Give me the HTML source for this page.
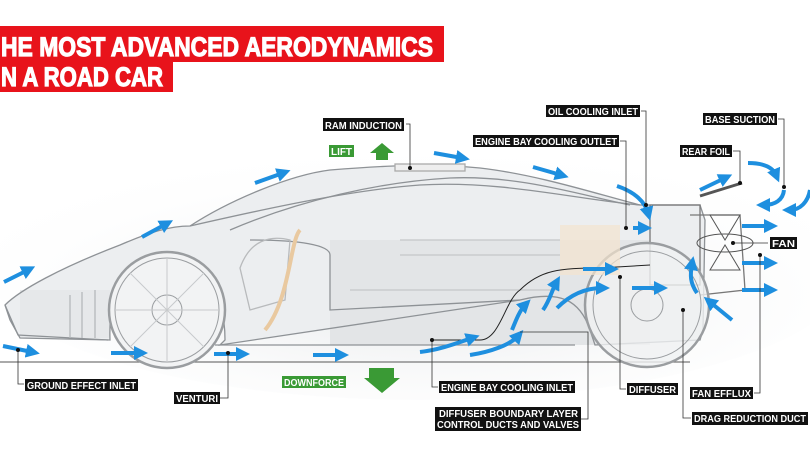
<!DOCTYPE html>
<html><head><meta charset="utf-8"><style>
html,body{margin:0;padding:0;background:#fff;width:810px;height:456px;overflow:hidden}
svg{display:block}
.l{font-family:"Liberation Sans",sans-serif;font-weight:bold;fill:#fff}
</style></head><body>
<svg width="810" height="456" viewBox="0 0 810 456" xmlns="http://www.w3.org/2000/svg">
<defs>
<marker id="ah" markerWidth="3.5" markerHeight="3.5" refX="1.5" refY="1.75" orient="auto" markerUnits="strokeWidth">
<path d="M0,0 L3.5,1.75 L0,3.5 z" fill="#1e8fdf"/></marker>
<radialGradient id="sh" cx="50%" cy="60%" r="60%"><stop offset="0" stop-color="#e6e8ea"/><stop offset="1" stop-color="#fff" stop-opacity="0"/></radialGradient>
</defs>
<rect width="810" height="456" fill="#fff"/>
<ellipse cx="420" cy="270" rx="430" ry="130" fill="url(#sh)"/>
<!-- title -->
<rect x="0" y="26" width="444" height="36" fill="#e8131b"/>
<rect x="0" y="62" width="173" height="30" fill="#e8131b"/>
<text x="1" y="56" class="l" font-size="27" stroke="#fff" stroke-width="1.2" textLength="432" lengthAdjust="spacingAndGlyphs">HE MOST ADVANCED AERODYNAMICS</text>
<text x="1" y="86" class="l" font-size="27" stroke="#fff" stroke-width="1.2" textLength="162" lengthAdjust="spacingAndGlyphs">N A ROAD CAR</text>
<!-- car body -->
<path d="M5,305 C20,290 60,268 120,245 C150,232 170,226 190,226 C230,200 290,175 330,170 C380,166 430,163 480,168 C540,175 600,195 640,205 L700,205 L705,220 L703,330 L700,340 L595,345 L590,330 C580,300 560,290 520,300 L220,345 L225,340 C225,290 200,255 165,252 C130,252 108,285 110,340 L20,338 L10,320 Z" fill="#eceef0"/>
<rect x="330" y="240" width="320" height="105" fill="#e3e5e7"/>
<rect x="20" y="290" width="90" height="48" fill="#e6e8ea"/>
<g fill="none" stroke="#8e9296" stroke-width="1.3">
<path d="M5,305 C20,290 60,268 120,245 C150,232 170,226 190,226 C230,200 290,175 330,170 C380,166 430,163 480,168 C540,175 600,195 640,205 L700,205 L705,220 L703,330 L700,340 L595,345 L590,330 C580,300 560,290 520,300 L220,345 L225,340 C225,290 200,255 165,252 C130,252 108,285 110,340 L20,338 L10,320 Z"/>
<path d="M5,305 L18,335 L108,340" />
<path d="M190,226 C260,210 350,190 420,185 C500,180 580,200 640,205"/>
<path d="M230,230 C300,200 380,182 450,178 C520,175 580,195 630,205"/>
<path d="M250,240 C300,240 330,245 330,255 L330,310 L520,300"/>
<path d="M215,345 L575,345"/>
<path d="M0,362 L690,362" stroke="#777"/>
<path d="M240,268 C250,240 270,235 290,240 L285,300 L250,310 Z" stroke="#b8babc"/>
<path d="M70,295 L70,338 M82,292 L82,338 M95,290 L95,338" stroke="#b5b8bb"/>
<path d="M400,240 L560,240 M400,255 L560,255 M350,290 L560,290" stroke="#c4c6c8"/>
<rect x="395" y="164" width="70" height="7" stroke="#aaa" fill="#eee"/>
<rect x="650" y="205" width="50" height="80" stroke="#777"/>
<path d="M690,215 L740,215 L745,290 L700,295" stroke="#777"/>
<path d="M700,196 L742,183" stroke="#555" stroke-width="3"/>
</g>
<!-- wheels -->
<g fill="none" stroke="#9a9da0">
<circle cx="167" cy="310" r="58" stroke-width="2.5" fill="#f2f3f4"/><circle cx="167" cy="310" r="52"/><circle cx="167" cy="310" r="15"/>
<circle cx="647" cy="305" r="62" stroke-width="2.5" fill="#f0f1f2" fill-opacity=".8"/><circle cx="647" cy="305" r="54"/><circle cx="647" cy="305" r="16"/>
<path d="M167,258 L167,362 M115,310 L219,310 M130,273 L204,347 M204,273 L130,347" stroke="#c8cacc"/>
</g>
<!-- engine -->
<rect x="560" y="225" width="60" height="50" fill="#f3e4cf" opacity=".7"/>
<path d="M265,330 C290,300 290,240 300,230" stroke="#e9c9a0" stroke-width="4" fill="none"/>
<path d="M430,340 L480,340 C500,340 505,300 520,290 C540,270 560,268 600,268 L650,265" stroke="#222" stroke-width="1" fill="none"/>
<!-- fan -->
<g stroke="#555" fill="none"><path d="M710,215 L740,215 L725,240 Z M710,270 L740,270 L725,245 Z"/><ellipse cx="725" cy="243" rx="28" ry="9"/></g>
<!-- blue arrows -->
<g stroke="#1e8fdf" stroke-width="4" fill="none" marker-end="url(#ah)">
<path d="M4,282 L28,270"/><path d="M3,346 L32,352"/><path d="M142,237 L166,224"/><path d="M255,183 L283,173"/>
<path d="M111,353 L140,353"/><path d="M214,354 L242,354"/><path d="M313,355 L341,355"/>
<path d="M434,153 L462,158"/><path d="M533,167 L561,175"/><path d="M617,186 C635,192 645,202 648,213"/><path d="M633,228 L644,228"/>
<path d="M700,190 L725,178"/><path d="M748,163 C765,163 773,168 776,175"/><path d="M784,190 C783,200 775,205 764,205"/><path d="M810,190 C808,202 800,210 790,210"/>
<path d="M742,226 L770,226"/><path d="M742,263 L770,263"/><path d="M742,290 L770,290"/>
<path d="M583,269 L611,269"/><path d="M632,288 L660,288"/><path d="M557,308 C570,295 585,288 602,288"/>
<path d="M470,355 C490,352 510,345 518,336"/><path d="M420,352 C440,350 460,342 472,338"/><path d="M697,293 C690,283 690,275 692,264"/><path d="M732,320 L710,302"/>
<path d="M512,330 C516,320 520,310 525,305"/><path d="M543,310 C550,300 552,290 556,283"/>
</g>
<!-- leaders -->
<g stroke="#333" stroke-width="0.8" fill="none">
<path d="M406,124 L410,124 L410,168"/><path d="M641,111 L646,111 L646,205"/><path d="M620,141 L626,141 L626,228"/>
<path d="M778,119 L784,119 L784,187"/><path d="M733,151 L740,151 L740,183"/><path d="M733,243 L768,243"/>
<path d="M18,350 L18,384 L24,384"/><path d="M220,398 L228,398 L228,353"/><path d="M432,340 L432,387 L438,387"/>
<path d="M580,419 L588,419 L588,332 L520,332"/><path d="M620,277 L620,389 L626,389"/><path d="M754,393 L760,393 L760,255"/>
<path d="M683,310 L683,418 L691,418"/>
</g>
<g fill="#111"><circle cx="410" cy="168" r="2"/><circle cx="646" cy="205" r="2"/><circle cx="626" cy="228" r="2"/><circle cx="784" cy="187" r="2"/><circle cx="740" cy="183" r="2"/><circle cx="733" cy="243" r="2"/><circle cx="18" cy="350" r="2"/><circle cx="228" cy="353" r="2"/><circle cx="432" cy="340" r="2"/><circle cx="620" cy="277" r="2"/><circle cx="760" cy="255" r="2"/><circle cx="683" cy="310" r="2"/></g>
<!-- labels -->
<g>
<rect x="323" y="118" width="81" height="13" fill="#111"/><text x="325" y="129" class="l" font-size="10" textLength="77" lengthAdjust="spacingAndGlyphs">RAM INDUCTION</text>
<rect x="546" y="105" width="94" height="12" fill="#111"/><text x="548" y="115" class="l" font-size="10" textLength="90" lengthAdjust="spacingAndGlyphs">OIL COOLING INLET</text>
<rect x="473" y="135" width="146" height="12" fill="#111"/><text x="475" y="145" class="l" font-size="10" textLength="142" lengthAdjust="spacingAndGlyphs">ENGINE BAY COOLING OUTLET</text>
<rect x="703" y="113" width="74" height="12" fill="#111"/><text x="705" y="123" class="l" font-size="10" textLength="70" lengthAdjust="spacingAndGlyphs">BASE SUCTION</text>
<rect x="680" y="145" width="52" height="12" fill="#111"/><text x="682" y="155" class="l" font-size="10" textLength="48" lengthAdjust="spacingAndGlyphs">REAR FOIL</text>
<rect x="770" y="237" width="27" height="12" fill="#111"/><text x="772" y="247" class="l" font-size="10" textLength="23" lengthAdjust="spacingAndGlyphs">FAN</text>
<rect x="25" y="379" width="113" height="12" fill="#111"/><text x="27" y="389" class="l" font-size="10" textLength="109" lengthAdjust="spacingAndGlyphs">GROUND EFFECT INLET</text>
<rect x="174" y="392" width="46" height="12" fill="#111"/><text x="176" y="402" class="l" font-size="10" textLength="42" lengthAdjust="spacingAndGlyphs">VENTURI</text>
<rect x="439" y="381" width="136" height="12" fill="#111"/><text x="441" y="391" class="l" font-size="10" textLength="132" lengthAdjust="spacingAndGlyphs">ENGINE BAY COOLING INLET</text>
<rect x="627" y="383" width="51" height="12" fill="#111"/><text x="629" y="393" class="l" font-size="10" textLength="47" lengthAdjust="spacingAndGlyphs">DIFFUSER</text>
<rect x="690" y="387" width="63" height="12" fill="#111"/><text x="692" y="397" class="l" font-size="10" textLength="59" lengthAdjust="spacingAndGlyphs">FAN EFFLUX</text>
<rect x="435" y="407" width="146" height="24" fill="#111"/><text x="439" y="417" class="l" font-size="10" textLength="139" lengthAdjust="spacingAndGlyphs">DIFFUSER BOUNDARY LAYER</text><text x="437" y="428" class="l" font-size="10" textLength="142" lengthAdjust="spacingAndGlyphs">CONTROL DUCTS AND VALVES</text>
<rect x="692" y="412" width="116" height="13" fill="#111"/><text x="694" y="422" class="l" font-size="10" textLength="112" lengthAdjust="spacingAndGlyphs">DRAG REDUCTION DUCT</text>
<rect x="329" y="145" width="25" height="12" fill="#3a9a35"/><text x="331" y="155" class="l" font-size="10" textLength="21" lengthAdjust="spacingAndGlyphs">LIFT</text>
<rect x="282" y="376" width="64" height="12" fill="#3a9a35"/><text x="284" y="386" class="l" font-size="10" textLength="60" lengthAdjust="spacingAndGlyphs">DOWNFORCE</text>
<path d="M382,143 L394,153 L388,153 L388,160 L376,160 L376,153 L370,153 Z" fill="#3a9a35"/>
<path d="M369,368 L394,368 L394,378 L400,378 L382,393 L364,378 L369,378 Z" fill="#3a9a35"/>
</g>
</svg>
</body></html>
